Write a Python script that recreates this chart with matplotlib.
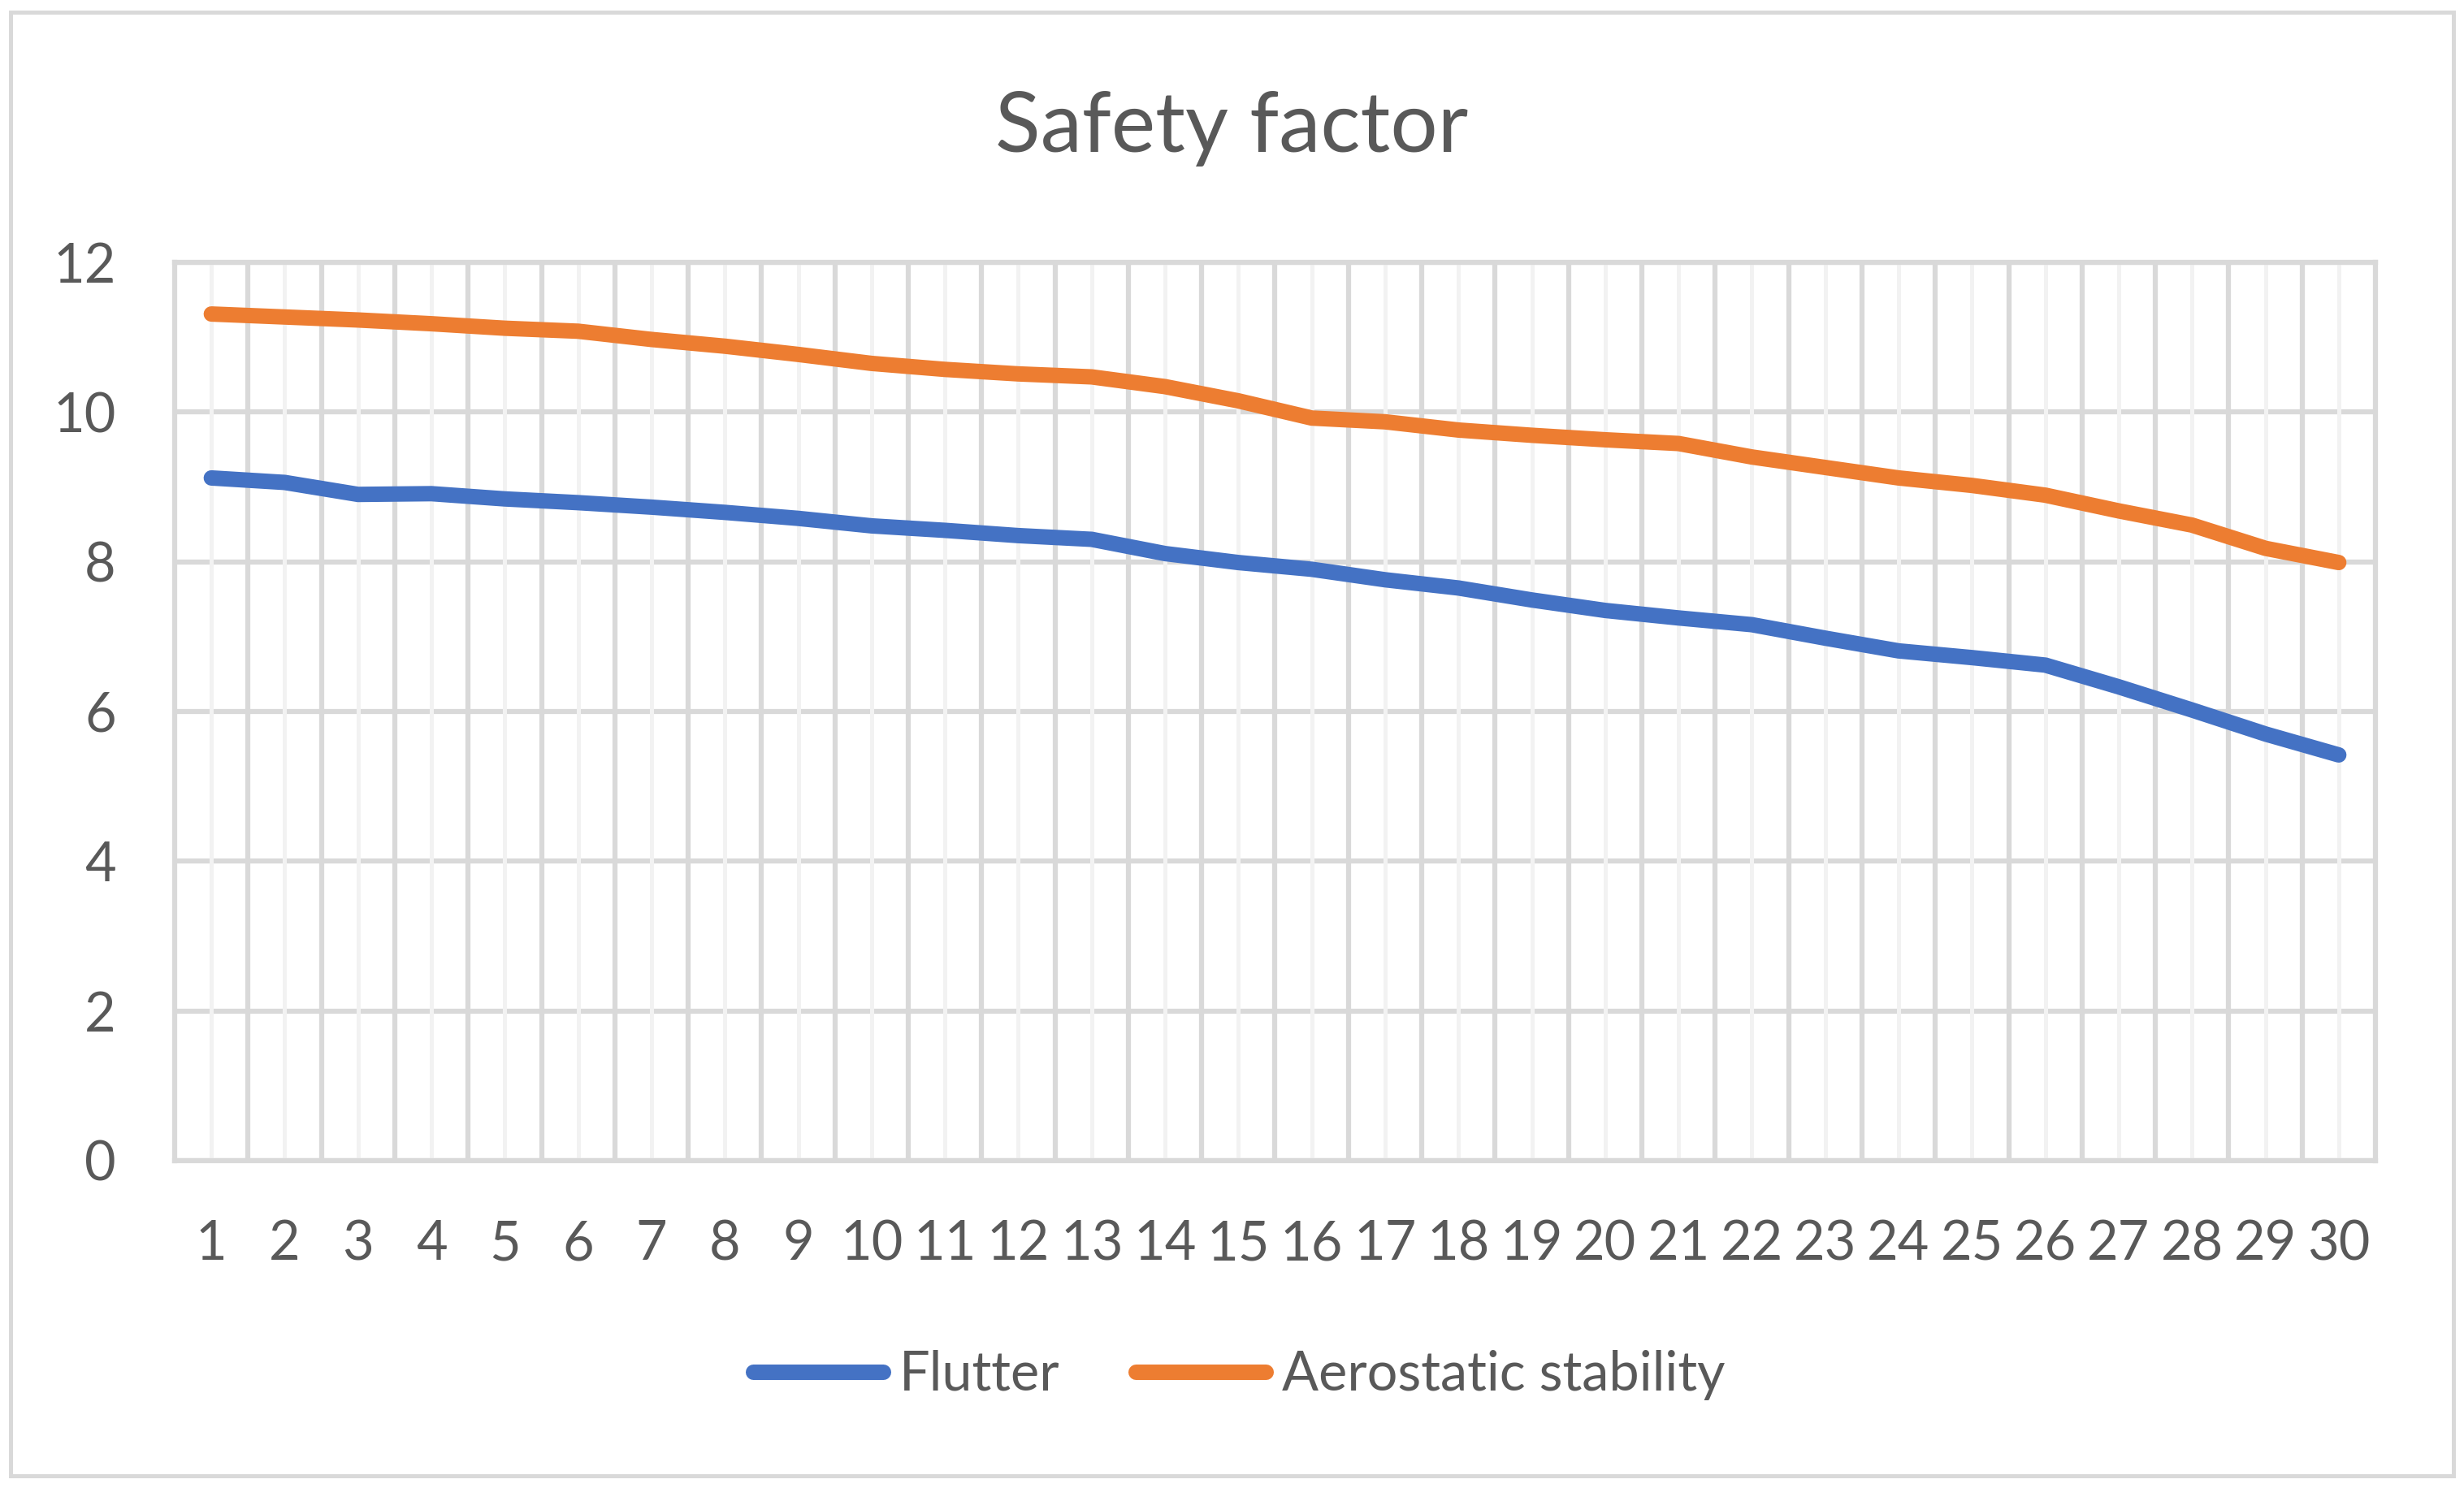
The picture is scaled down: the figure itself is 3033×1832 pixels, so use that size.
import matplotlib
matplotlib.use('Agg')
import matplotlib.pyplot as plt
from matplotlib.patches import Rectangle
from matplotlib.lines import Line2D

plt.rcParams['font.family'] = ['Lato', 'DejaVu Sans']

cases = list(range(1, 31))
flutter = [9.12, 9.06, 8.90, 8.91, 8.84, 8.79, 8.73, 8.66, 8.58, 8.48,
           8.42, 8.35, 8.30, 8.11, 7.99, 7.90, 7.76, 7.65, 7.49, 7.35,
           7.25, 7.16, 6.98, 6.81, 6.72, 6.62, 6.33, 6.02, 5.70, 5.42]
aerostatic = [11.31, 11.27, 11.23, 11.18, 11.12, 11.08, 10.97, 10.88, 10.77, 10.65,
              10.57, 10.51, 10.47, 10.34, 10.15, 9.92, 9.87, 9.76, 9.69, 9.63,
              9.58, 9.40, 9.26, 9.12, 9.02, 8.89, 8.68, 8.49, 8.18, 7.99]
series_names = ['Flutter', 'Aerostatic stability']
yticks = [0, 2, 4, 6, 8, 10, 12]

blue = '#4472C4'
orange = '#ED7D31'
txt = '#595959'
grid_dark = '#D9D9D9'
grid_light = '#F2F2F2'
fs = 48

W, H = 3033, 1832
fig = plt.figure(figsize=(W / 100, H / 100), dpi=100)

# outer chart border
fig.patches.append(Rectangle((13 / W, 15 / H), (3020 - 13) / W, (1817 - 15) / H,
                             transform=fig.transFigure, fill=False,
                             edgecolor=grid_dark, linewidth=3.6))

ax = fig.add_axes([215 / W, 1 - 1429 / H, (2924 - 215) / W, (1429 - 323) / H])

ax.set_xlim(0.5, 30.5)
ax.set_ylim(0, 12)

# light lines at category centres, darker lines at category boundaries
for c in cases:
    ax.axvline(c, color=grid_light, lw=3.6, zorder=1.2)
for b in range(1, 30):
    ax.axvline(b + 0.5, color=grid_dark, lw=4.5, zorder=1.1)
for v in yticks:
    ax.axhline(v, color=grid_dark, lw=4.5, zorder=1.0)

for s in ax.spines.values():
    s.set_color(grid_dark)
    s.set_linewidth(4.5)

kw = dict(lw=13.7, solid_capstyle='round', solid_joinstyle='round', zorder=3)
ax.plot(cases, flutter, color=blue, **kw)
ax.plot(cases, aerostatic, color=orange, **kw)

ax.set_xticks(cases)
ax.set_xticklabels([str(c) for c in cases])
ax.set_yticks(yticks)
ax.tick_params(length=0, labelsize=fs, labelcolor=txt)
ax.tick_params(axis='x', pad=52)
ax.tick_params(axis='y', pad=52)

fig.text(0.5, 1 - 187 / H, 'Safety factor', ha='center', va='baseline',
         fontsize=74, color=txt)

handles = [Line2D([], [], color=blue, lw=13.7, solid_capstyle='round'),
           Line2D([], [], color=orange, lw=13.7, solid_capstyle='round')]
leg = fig.legend(handles, series_names, loc='center', bbox_to_anchor=(0.503, 1 - 1693 / H),
                 ncol=2, frameon=False, fontsize=fs, handlelength=2.4,
                 handletextpad=0.3, columnspacing=1.4)
for t in leg.get_texts():
    t.set_color(txt)

fig.savefig('out.png', dpi=100, facecolor='white')
